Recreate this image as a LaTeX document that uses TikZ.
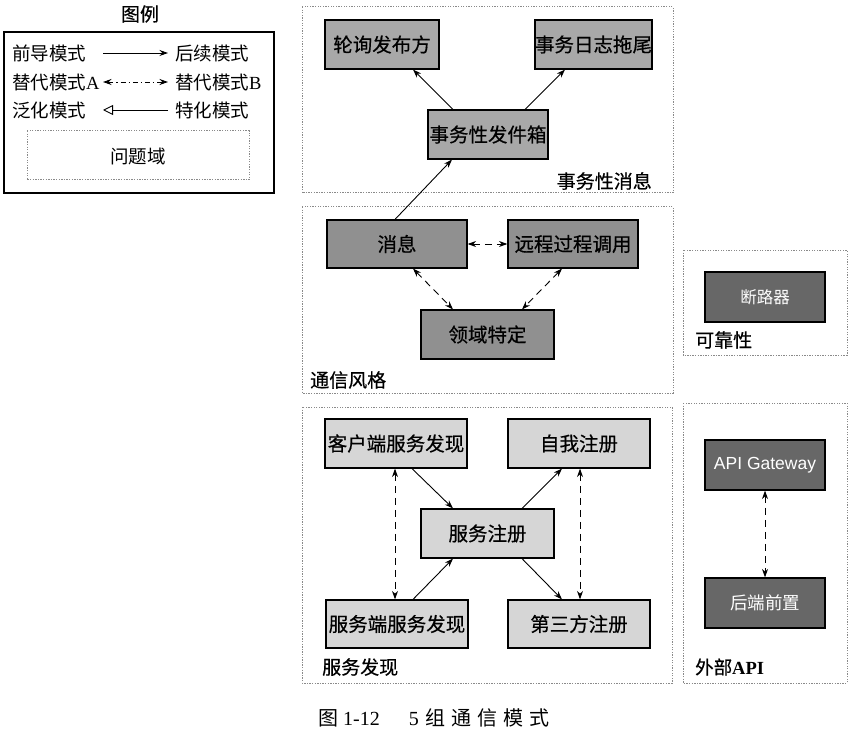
\documentclass[tikz,border=0pt]{standalone}
\usepackage{fontspec}
\setmainfont{Liberation Serif}
\newfontfamily\cjk{Noto Sans CJK SC}
\newfontfamily\cjkm[FakeBold=0.5]{Noto Sans CJK SC}
\newfontfamily\sansf{Liberation Sans}
\usetikzlibrary{arrows.meta}
\definecolor{gA}{HTML}{A8A8A8}
\definecolor{gB}{HTML}{909090}
\definecolor{gC}{HTML}{D6D6D6}
\definecolor{gD}{HTML}{676767}
\definecolor{dotc}{HTML}{8A8A8A}
\begin{document}
\begin{tikzpicture}[x=1pt,y=-1pt,
  nbox/.style={draw=black,line width=1.2pt,rectangle,inner sep=0pt,minimum height=49pt,
    font=\cjkm\fontsize{19.5}{19.5}\selectfont},
  boxA/.style={nbox,fill=gA},
  boxB/.style={nbox,fill=gB},
  boxC/.style={nbox,fill=gC},
  boxD/.style={nbox,fill=gD,text=white,minimum width=120pt,minimum height=50pt,font=\sansf\fontsize{17.5}{17.5}\selectfont},
  grp/.style={draw=dotc,line width=1pt,dash pattern=on 1.3pt off 1.3pt},
  lbl/.style={inner sep=0pt,font=\cjkm\fontsize{19}{19}\selectfont},
  leg/.style={inner sep=0pt,anchor=west,font=\fontsize{18.5}{18.5}\selectfont},
  conn/.style={line width=0.9pt,-{Stealth[length=8.5pt,width=6pt]}},
  dconn/.style={line width=0.9pt,{Stealth[length=8.5pt,width=6pt]}-{Stealth[length=8.5pt,width=6pt]},dash pattern=on 7pt off 5pt},
]
\useasboundingbox (0,0) rectangle (850,735);

% ---------- legend ----------
\node[lbl] (legtitle) at (140,14) {图例};
\draw[line width=1.2pt] (4,32) rectangle (274,193);
\node[leg] (l1a) at (12,53) {{\cjk 前导模式}};
\node[leg] (l1b) at (175,53) {{\cjk 后续模式}};
\node[leg] (l2a) at (12,82) {{\cjk 替代模式}A};
\node[leg] (l2b) at (175,82) {{\cjk 替代模式}B};
\node[leg] (l3a) at (12,110) {{\cjk 泛化模式}};
\node[leg] (l3b) at (175,110) {{\cjk 特化模式}};
\coordinate (a1s) at (103,53); \coordinate (a1e) at (168,53);
\coordinate (a2s) at (103,82); \coordinate (a2e) at (168,82);
\coordinate (a3s) at (168,110); \coordinate (a3e) at (103,110);
\draw[conn] (a1s) -- (a1e);
\draw[line width=0.9pt,{Stealth[length=8.5pt,width=6pt]}-{Stealth[length=8.5pt,width=6pt]},dash pattern=on 5pt off 3pt on 1.2pt off 3pt] (a2s) -- (a2e);
\draw[line width=0.9pt,-{Triangle[open,length=10pt,width=10pt]}] (a3s) -- (a3e);
\draw[grp] (27,131) rectangle (249,180);
\node[leg,anchor=center] (domain) at (138,156) {{\cjk 问题域}};

% ---------- group 1: 事务性消息 ----------
\draw[grp] (302,7) rectangle (673,193);
\node[boxA,minimum width=114pt] (poll) at (382,44.5) {轮询发布方};
\node[boxA,minimum width=115pt] (tail) at (593.5,44.5) {事务日志拖尾};
\node[boxA,minimum width=120pt] (outbox) at (488,134.5) {事务性发件箱};
\node[lbl,anchor=east] (g1) at (652,181) {事务性消息};

% ---------- group 2: 通信风格 ----------
\draw[grp] (302,207) rectangle (673,393);
\node[boxB,minimum width=140pt,minimum height=48pt] (msg) at (397,244) {消息};
\node[boxB,minimum width=130pt,minimum height=48pt] (rpc) at (573,244) {远程过程调用};
\node[boxB,minimum width=133pt] (dsl) at (487.5,334.5) {领域特定};
\node[lbl,anchor=west] (g2) at (310,380) {通信风格};

% ---------- group 3: 服务发现 ----------
\draw[grp] (302,407) rectangle (672,683);
\node[boxC,minimum width=142pt] (client) at (396,443.5) {客户端服务发现};
\node[boxC,minimum width=142pt] (self) at (579,443.5) {自我注册};
\node[boxC,minimum width=133pt] (reg) at (487.5,533.5) {服务注册};
\node[boxC,minimum width=142pt,minimum height=48pt] (server) at (397,624) {服务端服务发现};
\node[boxC,minimum width=142pt,minimum height=48pt] (third) at (579,624) {第三方注册};
\node[lbl,anchor=west] (g3) at (322,667) {服务发现};

% ---------- group 4: 可靠性 ----------
\draw[grp] (683,250) rectangle (847,355);
\node[boxD,font=\cjk\fontsize{16.5}{16.5}\selectfont] (cb) at (765,297) {断路器};
\node[lbl,anchor=west] (g4) at (695,340) {可靠性};

% ---------- group 5: 外部API ----------
\draw[grp] (683,403) rectangle (847,683);
\node[boxD] (gw) at (765,465) {API Gateway};
\node[boxD,font=\cjk\fontsize{17.5}{17.5}\selectfont] (bff) at (765,603) {后端前置};
\node[leg] (g5) at (695,667) {{\cjkm 外部}\textbf{API}};

% ---------- connectors ----------
\draw[conn] ([xshift=-2pt]msg.north) -- ([xshift=-36pt]outbox.south);
\draw[conn] ([xshift=-35pt]outbox.north) -- ([xshift=31pt]poll.south);
\draw[conn] ([xshift=37pt]outbox.north) -- ([xshift=-28.5pt]tail.south);
\draw[dconn] (msg.east) -- (rpc.west);
\draw[dconn] ([xshift=16pt]msg.south) -- ([xshift=-34.5pt]dsl.north);
\draw[dconn] ([xshift=-11pt]rpc.south) -- ([xshift=34.5pt]dsl.north);

\draw[conn] ([xshift=16pt]client.south) -- ([xshift=-34.5pt]reg.north);
\draw[conn] ([xshift=16pt]server.north) -- ([xshift=-34.5pt]reg.south);
\draw[conn] ([xshift=34.5pt]reg.north) -- ([xshift=-17pt]self.south);
\draw[conn] ([xshift=34.5pt]reg.south) -- ([xshift=-17pt]third.north);
\draw[dconn] ([xshift=-1pt]client.south) -- ([xshift=-2pt]server.north);
\draw[dconn] ([xshift=1pt]self.south) -- ([xshift=1pt]third.north);

\draw[dconn] (gw.south) -- (bff.north);

% ---------- caption ----------
\node[inner sep=0pt,anchor=west,font=\fontsize{20}{20}\selectfont] (cap) at (318,718)
  {{\cjk 图}\hspace{5pt}1-12\hspace{29pt}5\hspace{7pt}{\cjk 组\hspace{6pt}通\hspace{6pt}信\hspace{6pt}模\hspace{6pt}式}};
\end{tikzpicture}
\end{document}
